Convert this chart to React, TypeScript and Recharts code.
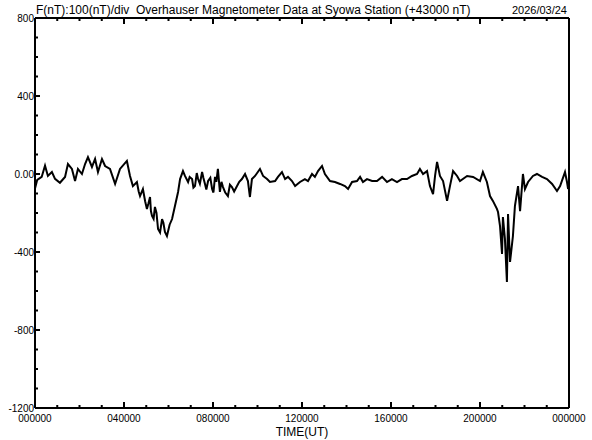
import { Line, LineChart, XAxis, YAxis } from 'recharts'

// Hours (UT) of each traced sample and the field deviation from 43000 nT (same order, row by row).
const timeHours = [
  0.0, 0.1, 0.3, 0.45, 0.58, 0.76, 0.9, 1.12, 1.35, 1.48,
  1.66, 1.8, 1.93, 2.11, 2.25, 2.38, 2.56, 2.7, 2.83, 3.01,
  3.15, 3.37, 3.6, 3.82, 4.13, 4.27, 4.4, 4.58, 4.66, 4.72,
  4.85, 4.95, 5.03, 5.1, 5.17, 5.21, 5.26, 5.33, 5.39, 5.46,
  5.53, 5.62, 5.71, 5.77, 5.84, 5.93, 6.05, 6.16, 6.29, 6.43,
  6.52, 6.65, 6.74, 6.88, 6.95, 7.06, 7.12, 7.19, 7.27, 7.33,
  7.41, 7.51, 7.57, 7.64, 7.7, 7.78, 7.88, 7.96, 8.02, 8.09,
  8.15, 8.22, 8.31, 8.38, 8.45, 8.55, 8.67, 8.76, 8.85, 8.95,
  9.08, 9.18, 9.3, 9.44, 9.57, 9.66, 9.75, 9.89, 10.11, 10.25,
  10.43, 10.56, 10.79, 10.92, 11.1, 11.24, 11.37, 11.55, 11.69, 11.91,
  12.13, 12.27, 12.45, 12.58, 12.72, 12.9, 13.03, 13.26, 13.48, 13.71,
  13.93, 14.07, 14.25, 14.47, 14.61, 14.74, 14.92, 15.15, 15.37, 15.6,
  15.82, 16.04, 16.27, 16.49, 16.72, 16.94, 17.17, 17.3, 17.44, 17.62,
  17.75, 17.89, 17.98, 18.07, 18.2, 18.34, 18.52, 18.65, 18.79, 18.97,
  19.1, 19.42, 19.69, 20.0, 20.13, 20.31, 20.45, 20.58, 20.76, 20.81,
  20.9, 20.99, 21.03, 21.12, 21.21, 21.26, 21.35, 21.48, 21.57, 21.71,
  21.8, 21.93, 22.02, 22.16, 22.38, 22.56, 22.79, 23.01, 23.24, 23.46,
  23.6, 23.82, 23.91, 23.96,
]

const fieldNT = [
  -75, -30, -15, 43, -10, 10, -25, -45, -15, 51,
  26, -36, 26, 0, 51, 87, 36, 77, 10, 77,
  41, 26, -51, 26, 67, -10, -62, -41, -90, -113,
  -77, -140, -179, -150, -118, -190, -215, -230, -169, -200,
  -282, -300, -231, -250, -297, -318, -260, -231, -164, -92,
  -26, 15, -10, -41, -15, -26, -70, -62, 5, -26,
  -50, 10, -20, -51, -80, -36, -20, -77, -95, -15,
  -40, 26, -92, -40, -67, -95, -113, -55, -67, -90,
  -62, -40, -26, 0, -36, -118, -26, -10, 26, -10,
  -26, -41, -36, -15, 10, -26, -15, -36, -62, -41,
  -26, -36, 0, -15, 15, 41, 0, -36, -41, -51,
  -62, -77, -41, -36, -15, -41, -26, -36, -36, -15,
  -41, -26, -41, -26, -26, -10, 0, 26, 0, 15,
  -62, -103, -10, 62, -10, -36, -138, -62, 15, -10,
  -36, -10, -15, -36, 10, -41, -113, -138, -179, -195,
  -267, -410, -221, -333, -554, -205, -451, -318, -164, -62,
  -190, 0, -77, -41, -10, 0, -15, -26, -51, -87,
  -62, 10, -41, -77,
]

const hourTicks = [0, 1, 2, 3, 4, 5, 6, 7, 8, 9, 10, 11, 12, 13, 14, 15, 16, 17, 18, 19, 20, 21, 22, 23, 24]
const hourLabels: Record<number, string> = {
  0: '000000', 4: '040000', 8: '080000', 12: '120000', 16: '160000', 20: '200000', 24: '000000',
}
const nTTicks = [-1200, -1100, -1000, -900, -800, -700, -600, -500, -400, -300, -200, -100, 0, 100, 200, 300, 400, 500, 600, 700, 800]
const nTLabels: Record<number, string> = {
  800: '800', 400: '400', 0: '0.00', '-400': '-400', '-800': '-800', '-1200': '-1200',
}

const data = timeHours.map((h, i) => ({ h, f: fieldNT[i] }))

const font = '"Liberation Sans", Arial, sans-serif'
const W = 592
const H = 440

function BottomTick(props: any) {
  const { x, y, payload } = props
  const label = hourLabels[payload.value]
  const major = payload.value % 4 === 0
  return (
    <g>
      <line x1={x} y1={y} x2={x} y2={y - (major ? 6 : 3)} stroke="#000" strokeWidth={2} />
      {label && (
        <text x={x} y={y + 14} textAnchor="middle" fontSize={10} fontFamily={font} fill="#000">
          {label}
        </text>
      )}
    </g>
  )
}

function TopTick(props: any) {
  const { x, y, payload } = props
  const major = payload.value % 4 === 0
  return <line x1={x} y1={y} x2={x} y2={y + (major ? 6 : 3)} stroke="#000" strokeWidth={2} />
}

function LeftTick(props: any) {
  const { x, y, payload } = props
  const label = nTLabels[payload.value]
  return (
    <g>
      <line x1={x} y1={y} x2={x + (label ? 5 : 3)} y2={y} stroke="#000" strokeWidth={2} />
      {label && (
        <text x={x - 1} y={y + 3.5} textAnchor="end" fontSize={10} fontFamily={font} fill="#000">
          {label}
        </text>
      )}
    </g>
  )
}

function RightTick(props: any) {
  const { x, y, payload } = props
  const major = nTLabels[payload.value] !== undefined
  return <line x1={x} y1={y} x2={x - (major ? 5 : 3)} y2={y} stroke="#000" strokeWidth={2} />
}

export default function App() {
  const axisLine = { stroke: '#000', strokeWidth: 2 }
  return (
    <div style={{ position: 'absolute', left: 0, top: 0, width: W, height: H, background: '#fff' }}>
      <LineChart width={W} height={H} data={data} margin={{ top: 17, right: 22, bottom: 31, left: 34 }}>
        <XAxis
          xAxisId="bottom"
          dataKey="h"
          type="number"
          domain={[0, 24]}
          ticks={hourTicks}
          interval={0}
          height={1}
          tickSize={0}
          tickMargin={0}
          tickLine={false}
          axisLine={axisLine}
          tick={<BottomTick />}
        />
        <XAxis
          xAxisId="top"
          orientation="top"
          dataKey="h"
          type="number"
          domain={[0, 24]}
          ticks={hourTicks}
          interval={0}
          height={1}
          tickSize={0}
          tickMargin={0}
          tickLine={false}
          axisLine={axisLine}
          tick={<TopTick />}
        />
        <YAxis
          yAxisId="left"
          type="number"
          domain={[-1200, 800]}
          ticks={nTTicks}
          interval={0}
          width={1}
          tickSize={0}
          tickMargin={0}
          tickLine={false}
          axisLine={axisLine}
          tick={<LeftTick />}
        />
        <YAxis
          yAxisId="right"
          orientation="right"
          type="number"
          domain={[-1200, 800]}
          ticks={nTTicks}
          interval={0}
          width={1}
          tickSize={0}
          tickMargin={0}
          tickLine={false}
          axisLine={axisLine}
          tick={<RightTick />}
        />
        <Line
          xAxisId="bottom"
          yAxisId="left"
          type="linear"
          dataKey="f"
          stroke="#000"
          strokeWidth={2}
          dot={false}
          isAnimationActive={false}
        />
      </LineChart>
      <svg width={W} height={H} style={{ position: 'absolute', left: 0, top: 0, pointerEvents: 'none' }}>
        <text x={36} y={14} fontSize={12} fontFamily={font} fill="#000">
          F(nT):100(nT)/div{'\u00a0\u00a0'}Overhauser Magnetometer Data at Syowa Station (+43000 nT)
        </text>
        <text x={567} y={14} textAnchor="end" fontSize={11} fontFamily={font} fill="#000">
          2026/03/24
        </text>
        <text x={302} y={436} textAnchor="middle" fontSize={12} fontFamily={font} fill="#000">
          TIME(UT)
        </text>
      </svg>
    </div>
  )
}
